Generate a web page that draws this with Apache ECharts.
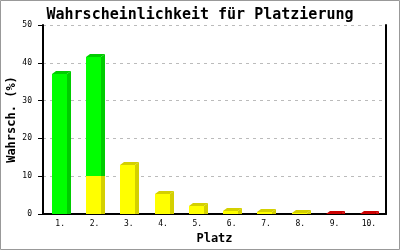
<!DOCTYPE html>
<html><head><meta charset="utf-8">
<script src="https://cdn.jsdelivr.net/npm/echarts@6/dist/echarts.min.js"></script>
<style>html,body{margin:0;padding:0;background:#fff}#c{width:400px;height:250px}</style>
</head><body><div id="c"></div>
<script>
const categories = ['1.','2.','3.','4.','5.','6.','7.','8.','9.','10.'];
const yellowVals = [0, 10, 13, 5.4, 2.1, 0.8, 0.5, 0.35, 0, 0];
const greenVals  = [37, 31.6, 0, 0, 0, 0, 0, 0, 0, 0];
const redVals    = [0, 0, 0, 0, 0, 0, 0, 0, 0.1, 0.1];
const yTicks = [0, 10, 20, 30, 40, 50];

function stackData(vals, baseArr) {
  const out = [];
  vals.forEach((v, i) => { if (v > 0) out.push([i, baseArr[i], baseArr[i] + v]); });
  return out;
}
const zeros = categories.map(() => 0);
const yellowData = stackData(yellowVals, zeros);
const greenData = stackData(greenVals, yellowVals);
const redData = stackData(redVals, zeros);

function makeRender(front, dark) {
  return function (params, api) {
    const idx = api.value(0);
    const p0 = api.coord([idx, api.value(1)]);
    const p1 = api.coord([idx, api.value(2)]);
    const band = api.size([1, 0])[0];
    const w = Math.round(band * 0.44);
    const dx = 4, dy = 3;
    const x = Math.round(p0[0] - w / 2 - 1);
    const y0 = Math.round(p0[1]);
    const y1 = Math.round(p1[1]);
    return {
      type: 'group',
      children: [
        { type: 'polygon', shape: { points: [[x + w, y1], [x + w + dx, y1 - dy], [x + w + dx, y0], [x + w, y0]] }, style: { fill: dark } },
        { type: 'polygon', shape: { points: [[x, y1], [x + dx, y1 - dy], [x + w + dx, y1 - dy], [x + w, y1]] }, style: { fill: dark } },
        { type: 'rect', shape: { x: x, y: y1, width: w, height: y0 - y1 }, style: { fill: front } }
      ]
    };
  };
}

const mono = '"DejaVu Sans Mono", "Liberation Mono", monospace';
const chart = echarts.init(document.getElementById('c'), null, { renderer: 'canvas' });
chart.setOption({
  animation: false,
  backgroundColor: '#fff',
  graphic: [{ type: 'rect', shape: { x: 0.5, y: 0.5, width: 399, height: 249 }, style: { fill: 'none', stroke: '#999', lineWidth: 1 }, z: 100 }],
  title: {
    text: 'Wahrscheinlichkeit für Platzierung', left: 'center', top: 3,
    textStyle: { fontFamily: mono, fontSize: 15, fontWeight: 'bold', color: '#000' }
  },
  grid: { left: 43, right: 14, top: 25, bottom: 36, outerBoundsMode: 'none', containLabel: false },
  xAxis: {
    type: 'category', data: categories,
    name: 'Platz', nameLocation: 'middle', nameGap: 19,
    nameTextStyle: { fontFamily: mono, fontSize: 12, fontWeight: 'bold', color: '#000' },
    axisLine: { lineStyle: { color: '#000', width: 2 } },
    axisTick: { show: false },
    axisLabel: { fontFamily: mono, fontSize: 8, color: '#000', margin: 6 },
    splitLine: { show: false }
  },
  yAxis: [{
    type: 'value', min: 0, max: 50, interval: 10,
    name: 'Wahrsch. (%)', nameLocation: 'middle', nameGap: 25, nameMoveOverlap: false,
    nameTextStyle: { fontFamily: mono, fontSize: 12, fontWeight: 'bold', color: '#000' },
    axisLine: { show: true, lineStyle: { color: '#000', width: 2 } },
    axisTick: { show: true, length: 5, lineStyle: { color: '#000' } },
    axisLabel: { fontFamily: mono, fontSize: 8, color: '#000', margin: 11,
      formatter: v => (yTicks.indexOf(v) >= 0 ? String(v) : '') },
    splitLine: { show: true, lineStyle: { color: '#bbb', type: [3, 4], width: 1 } }
  }, {
    type: 'value', min: 0, max: 50, interval: 10, position: 'right',
    axisLine: { show: true, lineStyle: { color: '#000', width: 2 } },
    axisTick: { show: false }, axisLabel: { show: false }, splitLine: { show: false }
  }],
  series: [
    { type: 'custom', name: 'gelb', renderItem: makeRender('#ffff00', '#d4d000'), data: yellowData, encode: { x: 0, y: [1, 2] }, z: 2 },
    { type: 'custom', name: 'grün', renderItem: makeRender('#00ff00', '#00cc00'), data: greenData, encode: { x: 0, y: [1, 2] }, z: 3 },
    { type: 'custom', name: 'rot', renderItem: makeRender('#ff0000', '#cc0000'), data: redData, encode: { x: 0, y: [1, 2] }, z: 2 }
  ]
});
</script></body></html>
